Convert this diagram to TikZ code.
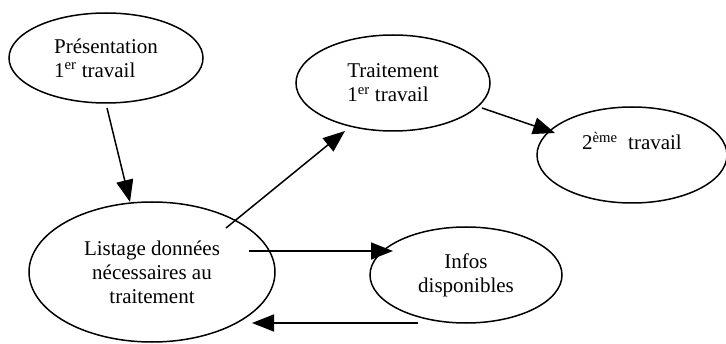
\documentclass[tikz,border=0pt]{standalone}
\usepackage{fontspec}
\setmainfont{Liberation Serif}
\usepackage{xcolor}
\usepackage{tikz}
\usetikzlibrary{arrows.meta}
\usetikzlibrary{shapes.geometric}

\begin{document}
\begin{tikzpicture}[
		%Global config
		x=1pt, y=1pt,
		>={Triangle[length=22pt,width=17pt]},
		line width=1.5pt,
		color = black,
		font=\fontsize{21}{24}\selectfont,
		%Styles
		Bulle/.style={
			ellipse,
			draw=black,
			inner sep=0pt,
			%align=center,
		},
		Fleche/.style={
			->,
			line width=1.5pt,
		}
		]
		
		\useasboundingbox (0,0) rectangle (726,343);
		
		% Bulles
		\node[Bulle, minimum width=194pt, minimum height=90pt, align=left] (pres) at (106,285) {Présentation\\1\textsuperscript{er} travail};
		\node[Bulle, minimum width=246pt, minimum height=140pt, align=center] (listage) at (152,71) {Listage données\\nécessaires au\\traitement};
		\node[Bulle, minimum width=194pt, minimum height=96pt, align=left] (trait) at (393,260) {Traitement\\1\textsuperscript{er} travail};
		\node[Bulle, minimum width=190pt, minimum height=96pt, text height=15pt, text depth=25pt] (deux) at (632,188) {2\textsuperscript{ème}\ \ travail};
		\node[Bulle, minimum width=192pt, minimum height=96pt, align=center] (infos) at (466,68) {Infos\\disponibles};
		
		% Fleches
		\draw[Fleche] ([shift={(1pt,-50pt)}]pres.center) -- ([shift={(-22pt,70pt)}]listage.center);
		\draw[Fleche] ([shift={(74pt,44pt)}]listage.center) -- ([shift={(-48pt,-48pt)}]trait.center);
		\draw[Fleche] ([shift={(89pt,-25pt)}]trait.center) -- ([shift={(-77pt,22pt)}]deux.center);
		\draw[Fleche] ([shift={(97pt,21pt)}]listage.center) -- ([shift={(-73pt,24pt)}]infos.center);
		\draw[Fleche] ([shift={(-48pt,-48pt)}]infos.center) -- ([shift={(100pt,-51pt)}]listage.center);
	\end{tikzpicture}
\end{document}
